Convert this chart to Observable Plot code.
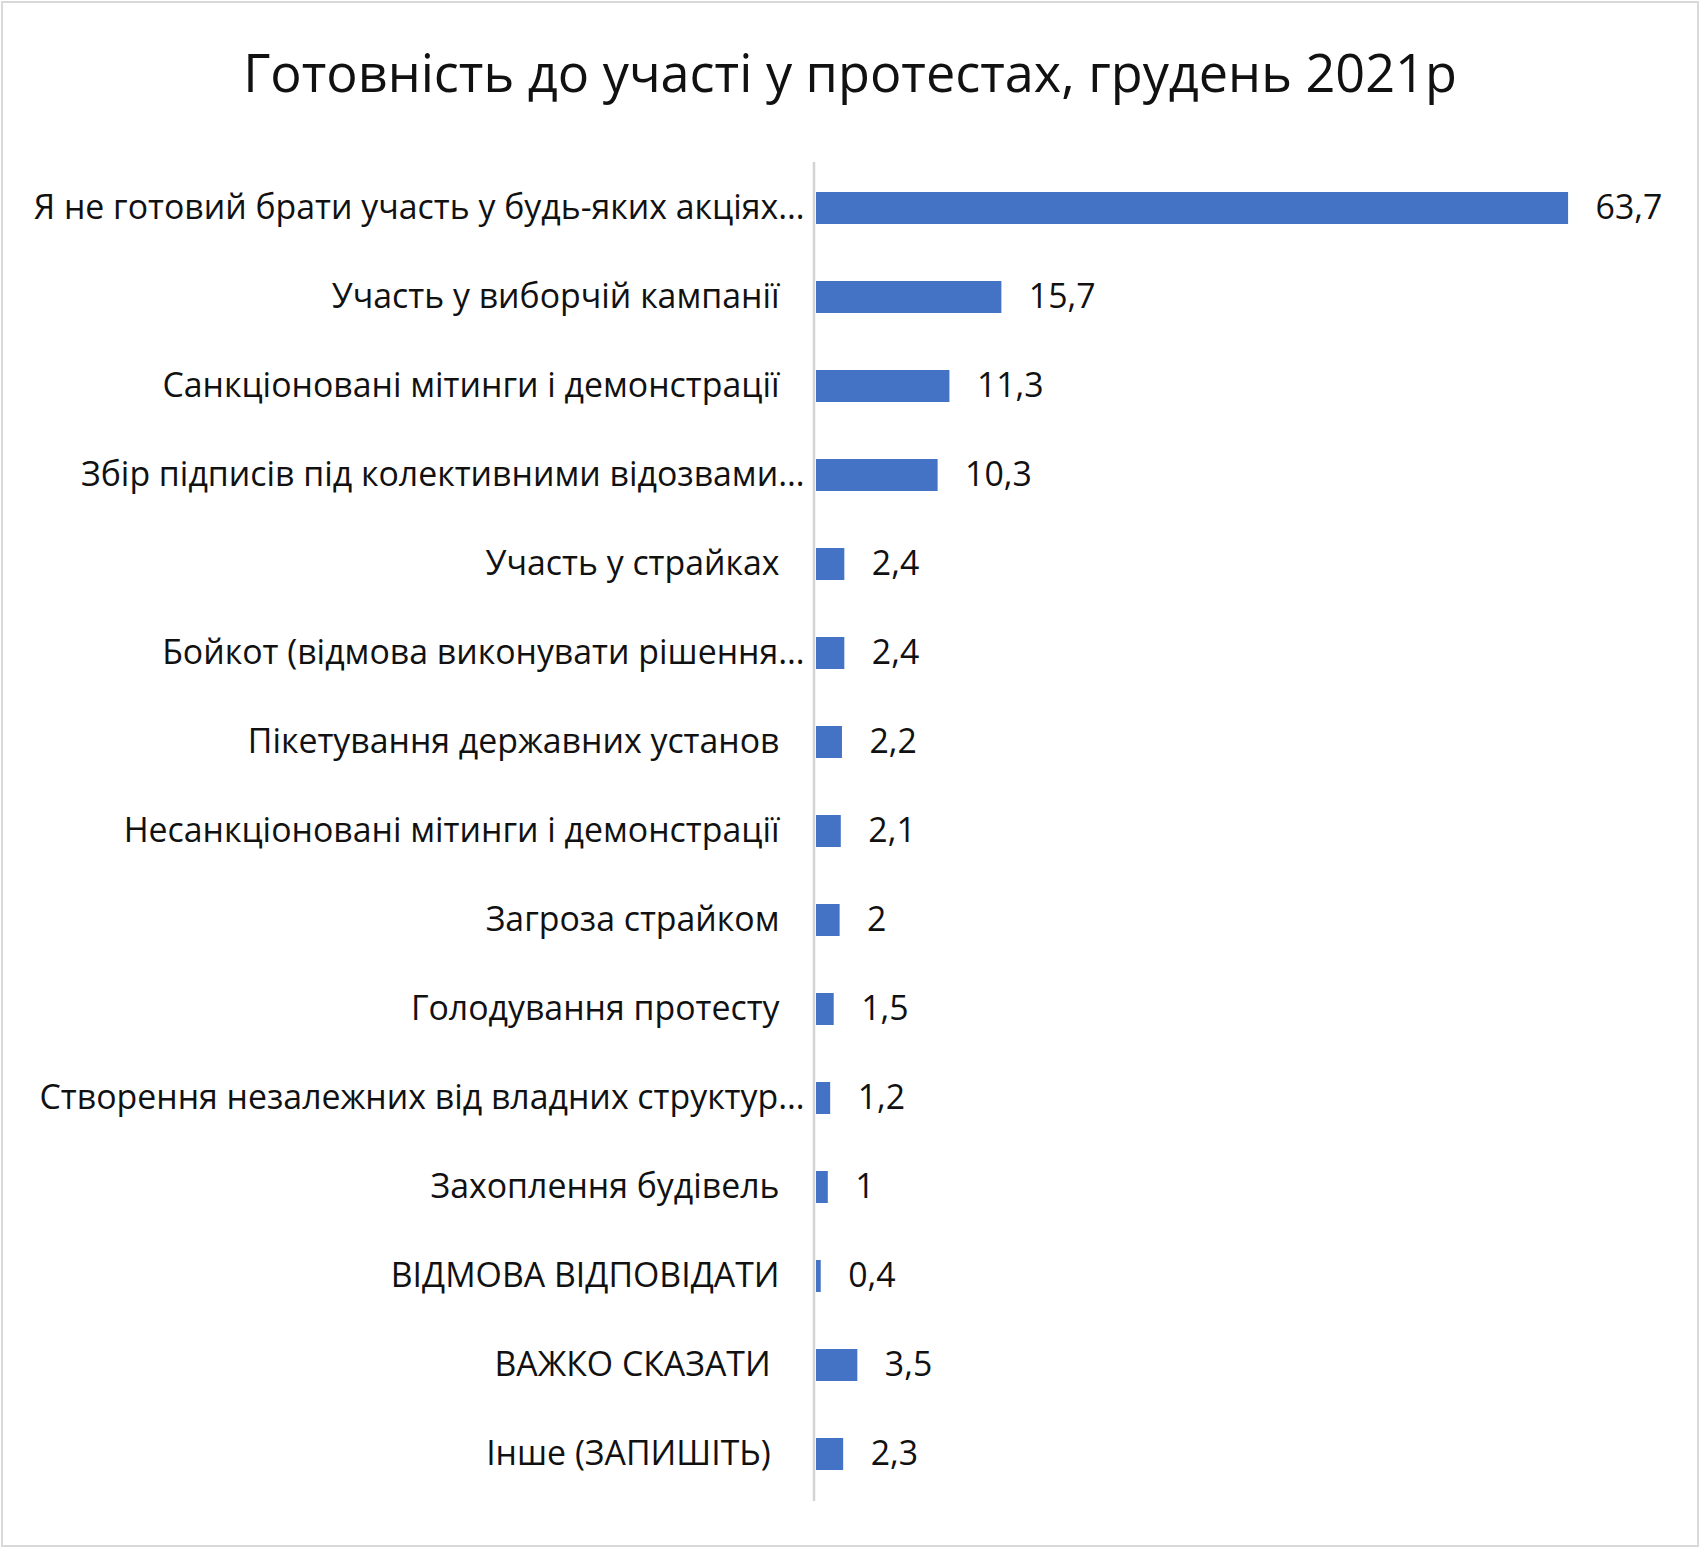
<!DOCTYPE html>
<html><head><meta charset="utf-8">
<script src="https://cdn.jsdelivr.net/npm/d3@7"></script>
<script src="https://cdn.jsdelivr.net/npm/@observablehq/plot@0.6"></script>
<style>
html,body{margin:0;padding:0;background:#fff;}
#wrap{position:relative;width:1700px;height:1548px;overflow:hidden;background:#fff;}
#frame{position:absolute;left:1px;top:1px;width:1698px;height:1546px;box-sizing:border-box;border:2px solid #d9d9d9;pointer-events:none;}
#title{position:absolute;left:0;width:1700px;text-align:center;font-family:'Open Sans';color:#111;white-space:nowrap;line-height:1;}
#chart{position:absolute;left:0;top:130px;}
</style></head>
<body><div id="wrap"><div id="title"></div><div id="chart"></div><div id="frame"></div></div>
<script>
const titleText = "Готовність до участі у протестах, грудень 2021р";
const categories = [
  "Я не готовий брати участь у будь-яких акціях…",
  "Участь у виборчій кампанії",
  "Санкціоновані мітинги і демонстрації",
  "Збір підписів під колективними відозвами…",
  "Участь у страйках",
  "Бойкот (відмова виконувати рішення…",
  "Пікетування державних установ",
  "Несанкціоновані мітинги і демонстрації",
  "Загроза страйком",
  "Голодування протесту",
  "Створення незалежних від владних структур…",
  "Захоплення будівель",
  "ВІДМОВА ВІДПОВІДАТИ",
  "ВАЖКО СКАЗАТИ\u00A0",
  "Інше (ЗАПИШІТЬ)\u00A0"
];
const values = [63.7, 15.7, 11.3, 10.3, 2.4, 2.4, 2.2, 2.1, 2, 1.5, 1.2, 1, 0.4, 3.5, 2.3];

const FONT = "'Open Sans'";
const ctx = document.createElement("canvas").getContext("2d");
function fit(text, target) {
  ctx.font = `100px ${FONT}`;
  return 100 * target / ctx.measureText(text).width;
}
const titleSize = fit(titleText, 1214);
const labelSize = fit(categories[0], 771);

const title = document.getElementById("title");
title.textContent = titleText;
title.style.fontSize = titleSize + "px";
title.style.top = (92 - 0.888 * titleSize) + "px";

const data = categories.map((c, i) => ({cat: c, value: values[i], label: String(values[i]).replace(".", ",")}));
const isTrunc = d => d.cat.endsWith("…");

const chart = Plot.plot({
  width: 1700,
  height: 1418,
  marginLeft: 816,
  marginRight: 54,
  marginTop: 32,
  marginBottom: 47,
  x: {domain: [0, 70.3], axis: null},
  y: {domain: categories, axis: null, paddingInner: 0.635, paddingOuter: 0.3175},
  style: {fontFamily: FONT, fontSize: labelSize + "px", color: "#111", background: "#fff", overflow: "visible"},
  marks: [
    Plot.ruleX([0], {stroke: "#d3d3d3", strokeWidth: 2.5, dx: -2.5}),
    Plot.barX(data, {x: "value", y: "cat", fill: "#4472C4"}),
    Plot.text(data, {x: "value", y: "cat", text: "label", textAnchor: "start", dx: 27, fill: "#111", fontSize: labelSize}),
    Plot.text(data.filter(d => !isTrunc(d)), {y: "cat", text: "cat", frameAnchor: "left", textAnchor: "end", dx: -37, fill: "#111", fontSize: labelSize}),
    Plot.text(data.filter(isTrunc), {y: "cat", text: "cat", frameAnchor: "left", textAnchor: "end", dx: -12, fill: "#111", fontSize: labelSize})
  ]
});
document.getElementById("chart").appendChild(chart);
</script>
</body></html>
